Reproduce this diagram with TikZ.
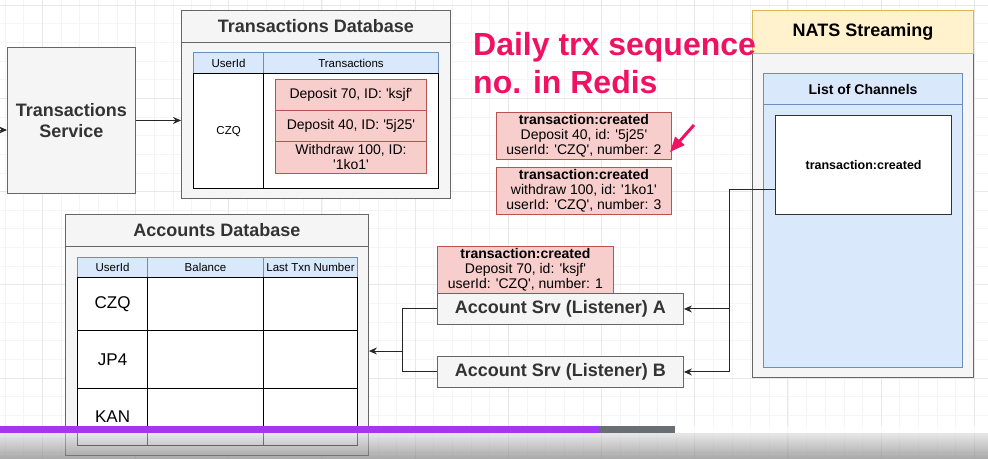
\documentclass[tikz,border=0pt]{standalone}
\usepackage{fontspec}
\setmainfont{Liberation Sans}[Ligatures=TeXOff]
\usetikzlibrary{arrows.meta,positioning}

\definecolor{boxgray}{HTML}{F5F5F5}
\definecolor{boxline}{HTML}{666666}
\definecolor{boxtext}{HTML}{333333}
\definecolor{hdrfill}{HTML}{DAE8FC}
\definecolor{hdrline}{HTML}{6C8EBF}
\definecolor{msgfill}{HTML}{F8CECC}
\definecolor{msgline}{HTML}{B85450}
\definecolor{natsfill}{HTML}{FFF2CC}
\definecolor{natsline}{HTML}{D6B656}
\definecolor{hotpink}{RGB}{240,18,98}
\definecolor{barpurple}{HTML}{A435F0}
\definecolor{bargray}{HTML}{6A6F73}

\newcommand{\bigbold}{\fontsize{18}{21}\selectfont\bfseries}
\newcommand{\msgfont}{\fontsize{14}{15}\selectfont}
\newcommand{\hdrfont}{\fontsize{11.5}{13}\selectfont}
\newcommand{\rowfont}{\fontsize{17}{19}\selectfont}
\newcommand{\redisfont}{\fontsize{32}{38}\selectfont\bfseries}

\tikzset{
  gridminor/.style={draw=black!4, line width=0.5pt},
  gridmajor/.style={draw=black!9, line width=0.6pt},
  graybox/.style={draw=boxline, fill=boxgray, line width=0.9pt, anchor=north west, inner sep=0pt},
  hdrcell/.style={draw=hdrline, fill=hdrfill, line width=1pt, anchor=north west, inner sep=0pt, font=\hdrfont},
  cell/.style={draw=black, fill=white, line width=1.2pt, anchor=north west, inner sep=0pt},
  msgbox/.style={draw=msgline, fill=msgfill, line width=0.9pt, anchor=north west, inner sep=0pt, align=center, font=\msgfont},
  wire/.style={draw=black!85, line width=1pt},
}

\begin{document}
\begin{tikzpicture}[x=1pt, y=-1pt, >={Stealth[length=8pt,width=7pt]}]
    \useasboundingbox (0,0) rectangle (988,458);
    \fill[white] (0,0) rectangle (988,458);
    % background grid
    \foreach \k in {0,...,53} {
        \draw[gridminor] ({5+18.64*\k},0) -- ++(0,458);
    }
    \foreach \k in {0,...,25} {
        \draw[gridminor] (0,{5+18.64*\k}) -- ++(988,0);
    }
    \foreach \k in {0,...,10} {
        \draw[gridmajor] ({42+93.2*\k},0) -- ++(0,458);
    }
    \foreach \k in {0,...,4} {
        \draw[gridmajor] (0,{5+93.2*\k}) -- ++(988,0);
    }

    % transactions service
    \node[graybox, minimum width=128pt, minimum height=146pt, font=\bigbold, text=boxtext, align=center] (tsrv) at (7,47) {Transactions\\Service};
    \coordinate (feed) at (0,130);
    \draw[wire, ->] (feed) -- (feed -| tsrv.west);

    % transactions database
    \node[graybox, minimum width=269pt, minimum height=188pt] (tdb) at (181,10) {};
    \node[graybox, minimum width=269pt, minimum height=32pt, font=\bigbold, text=boxtext] (tdbtitle) at (181,10) {Transactions Database};
    \node[hdrcell, minimum width=70pt, minimum height=21pt] (thid) at (193,52) {UserId};
    \node[hdrcell, minimum width=175pt, minimum height=21pt] (thtx) at (263,52) {Transactions};
    \node[cell, minimum width=70pt, minimum height=115pt, font=\hdrfont] (tuser) at (193,73) {CZQ};
    \node[cell, minimum width=175pt, minimum height=115pt] (tlist) at (263,73) {};
    \foreach \i/\y/\h/\txt in {1/79/31/{Deposit 70, ID: 'ksjf'}, 2/110/31/{Deposit 40, ID: '5j25'}, 3/141/32/{Withdraw 100, ID:\\'1ko1'}} {
        \node[msgbox, minimum width=151pt, minimum height=\h pt] (tx\i) at (275,\y) {\txt};
    }
    \draw[wire, ->] (tsrv.east) -- (tsrv.east -| tdb.west);

    % accounts database
    \node[graybox, minimum width=303pt, minimum height=241pt] (adb) at (65,214) {};
    \node[graybox, minimum width=303pt, minimum height=32pt, font=\bigbold, text=boxtext] (adbtitle) at (65,214) {Accounts Database};
    \node[hdrcell, minimum width=70pt, minimum height=20pt] (ahid) at (77,257) {UserId};
    \node[hdrcell, minimum width=116pt, minimum height=20pt] (ahbal) at (147,257) {Balance};
    \node[hdrcell, minimum width=94pt, minimum height=20pt] (ahnum) at (263,257) {Last Txn Number};
    \foreach \r/\y/\h/\uid in {1/277/53/CZQ, 2/330/58/JP4, 3/388/57/KAN} {
        \node[cell, minimum width=70pt, minimum height=\h pt, font=\rowfont] (au\r) at (77,\y) {\uid};
        \node[cell, minimum width=116pt, minimum height=\h pt] (ab\r) at (147,\y) {};
        \node[cell, minimum width=94pt, minimum height=\h pt] (an\r) at (263,\y) {};
    }

    % events
    \node[msgbox, minimum width=175pt, minimum height=47pt] (msg2) at (496,112) {\textbf{transaction:created}\\Deposit 40, id: '5j25'\\userId: 'CZQ', number: 2};
    \node[msgbox, minimum width=175pt, minimum height=47pt] (msg3) at (496,167) {\textbf{transaction:created}\\withdraw 100, id: '1ko1'\\userId: 'CZQ', number: 3};
    \node[msgbox, minimum width=176pt, minimum height=47pt] (msg1) at (437,246) {\textbf{transaction:created}\\Deposit 70, id: 'ksjf'\\userId: 'CZQ', number: 1};

    % listeners
    \node[graybox, minimum width=246pt, minimum height=31pt, font=\bigbold, text=boxtext] (lsa) at (437,293) {Account Srv (Listener) A};
    \node[graybox, minimum width=246pt, minimum height=31pt, font=\bigbold, text=boxtext] (lsb) at (437,356) {Account Srv (Listener) B};

    % nats
    \node[graybox, minimum width=221pt, minimum height=367pt] (nats) at (752,10) {};
    \node[graybox, draw=natsline, fill=natsfill, minimum width=221pt, minimum height=43pt, font=\bigbold] (natstitle) at (752,10) {NATS Streaming};
    \node[hdrcell, minimum width=199pt, minimum height=294pt] (chlist) at (763,73) {};
    \node[hdrcell, minimum width=199pt, minimum height=31pt, font=\fontsize{14}{16}\selectfont\bfseries] (chtitle) at (763,73) {List of Channels};
    \node[cell, draw=boxtext, minimum width=176pt, minimum height=99pt, font=\fontsize{12.5}{14}\selectfont\bfseries] (chan) at (775,115) {transaction:created};

    \coordinate (bus) at (729,189);
    \draw[wire] (chan.west |- bus) -- (bus) -- (bus |- lsb.east);
    \draw[wire, ->] (bus |- lsa.east) -- (lsa.east);
    \draw[wire, ->] (bus |- lsb.east) -- (lsb.east);

    \coordinate (join) at (402,351);
    \draw[wire] (lsa.west) -- (lsa.west -| join) -- (lsb.west -| join) -- (lsb.west);
    \draw[wire, ->] (join) -- (join -| adb.east);

    % redis note
    \node[anchor=base west, inner sep=0pt, font=\redisfont, text=hotpink] (redisa) at (473,55) {Daily trx sequence};
    \node[anchor=base west, inner sep=0pt, font=\redisfont, text=hotpink] (redisb) at (473,93) {no. in Redis};
    \coordinate (ptail) at (694,125);
    \coordinate (phead) at (670,152);
    \draw[hotpink, line width=3pt, -{Triangle[length=15pt,width=12pt]}] (ptail) -- (phead);

    % player bar
    \shade[top color=black!15, bottom color=black!55, opacity=0.6] (0,433) rectangle (988,458);
    \fill[white, opacity=0.7] (675,426) rectangle (988,433);
    \fill[barpurple] (0,426) rectangle (600,433);
    \fill[bargray] (600,426) rectangle (675,433);
\end{tikzpicture}
\end{document}
